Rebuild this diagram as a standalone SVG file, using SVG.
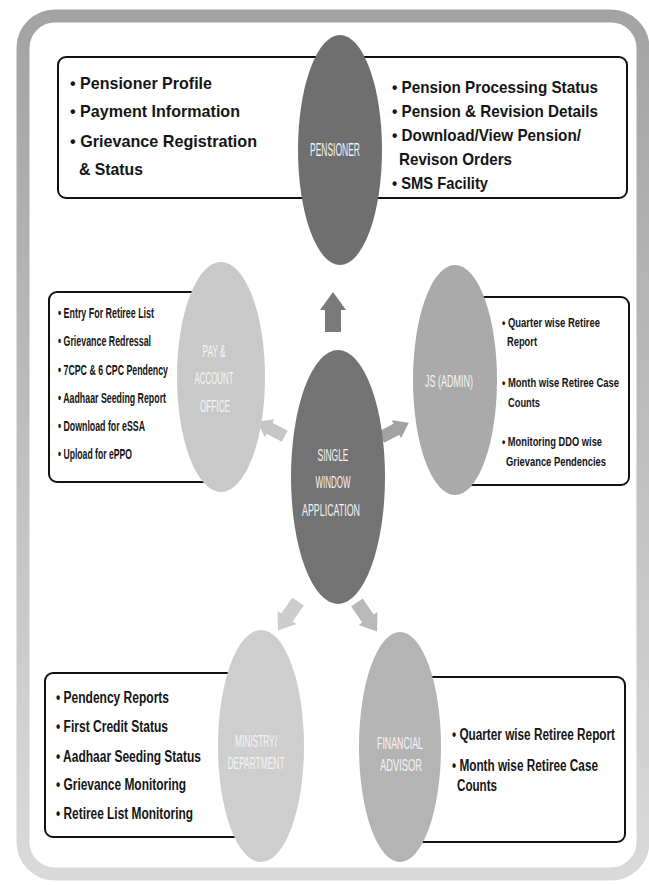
<svg xmlns="http://www.w3.org/2000/svg" width="649" height="885" viewBox="0 0 649 885">
<defs>
<linearGradient id="frameGrad" x1="0" y1="0" x2="0" y2="1">
<stop offset="0" stop-color="#a3a3a3"/>
<stop offset="1" stop-color="#dadada"/>
</linearGradient>
<path id="blockArrow" d="M0,-20 L13,-2 L8,-2 L8,20 L-8,20 L-8,-2 L-13,-2 Z"/>
</defs>
<style>
.box{fill:#ffffff;stroke:#111;stroke-width:2}
.t{font-family:"Liberation Sans",Arial,sans-serif;font-weight:bold;fill:#151515}
.t17{font-size:17px}
.t14{font-size:14px}
.t13{font-size:13.5px}
.t16{font-size:16px}
.lbl{font-family:"Liberation Sans",Arial,sans-serif;font-size:17px;fill:#f4f4f4;text-anchor:middle}
.big{font-size:19px}
</style>
<rect x="0" y="0" width="649" height="885" fill="#ffffff"/>
<rect x="23" y="16" width="620" height="858" rx="32" fill="#ffffff" stroke="url(#frameGrad)" stroke-width="13"/>

<g id="connectors">
<use href="#blockArrow" transform="translate(333,312)" fill="#7a7a7a"/>
<use href="#blockArrow" transform="translate(271,429) rotate(-62) scale(0.78)" fill="#c6c6c6"/>
<use href="#blockArrow" transform="translate(395,430) rotate(62) scale(0.78)" fill="#a2a2a2"/>
<use href="#blockArrow" transform="translate(288,616) rotate(-145) scale(0.88)" fill="#cdcdcd"/>
<use href="#blockArrow" transform="translate(367,617) rotate(145) scale(0.88)" fill="#b9b9b9"/>
</g>

<g id="pensioner">
<rect class="box" x="58" y="57" width="569" height="141" rx="8"/>
<ellipse cx="340" cy="150" rx="42" ry="115" fill="#6f6f6f"/>
<text class="lbl big" x="335" y="156" textLength="50" lengthAdjust="spacingAndGlyphs">PENSIONER</text>
<text class="t t17" x="70" y="89" textLength="142" lengthAdjust="spacingAndGlyphs">• Pensioner Profile</text>
<text class="t t17" x="70" y="117" textLength="170" lengthAdjust="spacingAndGlyphs">• Payment Information</text>
<text class="t t17" x="70" y="147" textLength="187" lengthAdjust="spacingAndGlyphs">• Grievance Registration</text>
<text class="t t17" x="79" y="175" textLength="64" lengthAdjust="spacingAndGlyphs">&amp; Status</text>
<text class="t t17" x="392" y="93" textLength="206" lengthAdjust="spacingAndGlyphs">• Pension Processing Status</text>
<text class="t t17" x="392" y="117" textLength="206" lengthAdjust="spacingAndGlyphs">• Pension &amp; Revision Details</text>
<text class="t t17" x="392" y="141" textLength="189" lengthAdjust="spacingAndGlyphs">• Download/View Pension/</text>
<text class="t t17" x="399" y="165" textLength="113" lengthAdjust="spacingAndGlyphs">Revison Orders</text>
<text class="t t17" x="392" y="189" textLength="96" lengthAdjust="spacingAndGlyphs">• SMS Facility</text>
</g>

<g id="pay-account-office">
<rect class="box" x="49" y="292" width="166" height="190" rx="8"/>
<ellipse cx="221" cy="377" rx="44" ry="115" fill="#c9c9c9"/>
<text class="lbl" x="214" y="357" textLength="23" lengthAdjust="spacingAndGlyphs">PAY &amp;</text>
<text class="lbl" x="214" y="384" textLength="39" lengthAdjust="spacingAndGlyphs">ACCOUNT</text>
<text class="lbl" x="215" y="412" textLength="30" lengthAdjust="spacingAndGlyphs">OFFICE</text>
<text class="t t14" x="58" y="318" textLength="96" lengthAdjust="spacingAndGlyphs">• Entry For Retiree List</text>
<text class="t t14" x="58" y="346" textLength="93" lengthAdjust="spacingAndGlyphs">• Grievance Redressal</text>
<text class="t t14" x="58" y="375" textLength="110" lengthAdjust="spacingAndGlyphs">• 7CPC &amp; 6 CPC Pendency</text>
<text class="t t14" x="58" y="403" textLength="108" lengthAdjust="spacingAndGlyphs">• Aadhaar Seeding Report</text>
<text class="t t14" x="58" y="431" textLength="87" lengthAdjust="spacingAndGlyphs">• Download for eSSA</text>
<text class="t t14" x="58" y="459" textLength="74" lengthAdjust="spacingAndGlyphs">• Upload for ePPO</text>
</g>

<g id="single-window-application">
<ellipse cx="338" cy="477" rx="47" ry="127" fill="#737373"/>
<text class="lbl" x="333" y="461" textLength="31" lengthAdjust="spacingAndGlyphs">SINGLE</text>
<text class="lbl" x="333" y="488" textLength="35" lengthAdjust="spacingAndGlyphs">WINDOW</text>
<text class="lbl" x="331" y="516" textLength="58" lengthAdjust="spacingAndGlyphs">APPLICATION</text>
</g>

<g id="js-admin">
<rect class="box" x="460" y="297" width="169" height="188" rx="8"/>
<ellipse cx="455" cy="380" rx="42" ry="115" fill="#aaaaaa"/>
<text class="lbl" x="449" y="387" textLength="48" lengthAdjust="spacingAndGlyphs">JS (ADMIN)</text>
<text class="t t13" x="502" y="327" textLength="98" lengthAdjust="spacingAndGlyphs">• Quarter wise Retiree</text>
<text class="t t13" x="507" y="346" textLength="30" lengthAdjust="spacingAndGlyphs">Report</text>
<text class="t t13" x="502" y="387" textLength="117" lengthAdjust="spacingAndGlyphs">• Month wise Retiree Case</text>
<text class="t t13" x="508" y="407" textLength="32" lengthAdjust="spacingAndGlyphs">Counts</text>
<text class="t t13" x="502" y="446" textLength="100" lengthAdjust="spacingAndGlyphs">• Monitoring DDO wise</text>
<text class="t t13" x="506" y="466" textLength="100" lengthAdjust="spacingAndGlyphs">Grievance Pendencies</text>
</g>

<g id="ministry-department">
<rect class="box" x="45" y="673" width="205" height="164" rx="8"/>
<ellipse cx="261" cy="746" rx="43" ry="116" fill="#cecece"/>
<text class="lbl" x="256" y="747" textLength="42" lengthAdjust="spacingAndGlyphs">MINISTRY/</text>
<text class="lbl" x="256" y="769" textLength="57" lengthAdjust="spacingAndGlyphs">DEPARTMENT</text>
<text class="t t16" x="56" y="703" textLength="113" lengthAdjust="spacingAndGlyphs">• Pendency Reports</text>
<text class="t t16" x="56" y="732" textLength="112" lengthAdjust="spacingAndGlyphs">• First Credit Status</text>
<text class="t t16" x="56" y="762" textLength="145" lengthAdjust="spacingAndGlyphs">• Aadhaar Seeding Status</text>
<text class="t t16" x="56" y="790" textLength="130" lengthAdjust="spacingAndGlyphs">• Grievance Monitoring</text>
<text class="t t16" x="56" y="819" textLength="137" lengthAdjust="spacingAndGlyphs">• Retiree List Monitoring</text>
</g>

<g id="financial-advisor">
<rect class="box" x="405" y="677" width="220" height="165" rx="8"/>
<ellipse cx="400" cy="747" rx="41" ry="115" fill="#b4b4b4"/>
<text class="lbl" x="400" y="749" textLength="46" lengthAdjust="spacingAndGlyphs">FINANCIAL</text>
<text class="lbl" x="401" y="771" textLength="42" lengthAdjust="spacingAndGlyphs">ADVISOR</text>
<text class="t t16" x="452" y="740" textLength="163" lengthAdjust="spacingAndGlyphs">• Quarter wise Retiree Report</text>
<text class="t t16" x="452" y="771" textLength="146" lengthAdjust="spacingAndGlyphs">• Month wise Retiree Case</text>
<text class="t t16" x="457" y="791" textLength="40" lengthAdjust="spacingAndGlyphs">Counts</text>
</g>
</svg>
